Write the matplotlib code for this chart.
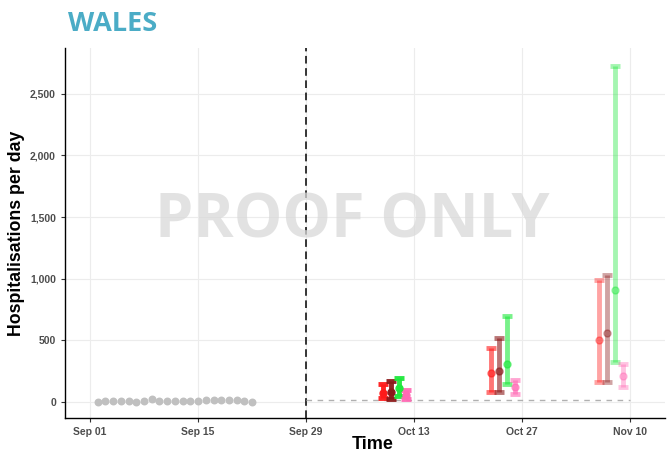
import datetime as dt
import matplotlib
matplotlib.use("Agg")
import matplotlib.pyplot as plt
import matplotlib.dates as mdates

# observed daily hospitalisations (grey points)
obs_start = dt.date(2020, 9, 2)
obs_values = [2, 8, 8, 6, 5, 3, 6, 20, 6, 4, 5, 8, 10, 10, 12, 15, 18, 15, 12, 8, 2]

# projections: 4 scenarios x 3 horizons
proj_dates = [dt.date(2020, 10, 9), dt.date(2020, 10, 23), dt.date(2020, 11, 6)]
scenarios = ["red", "darkred", "green", "pink"]
colors = ["#ff1a1a", "#8b1a1a", "#1ee83c", "#ff69b4"]
alphas = [0.95, 0.6, 0.4]
mid = [[70, 238, 503], [80, 254, 557], [110, 308, 909], [55, 119, 211]]
low = [[32, 84, 165], [22, 84, 165], [49, 146, 322], [22, 65, 119]]
high = [[142, 441, 990], [170, 517, 1031], [195, 698, 2727], [97, 179, 308]]

baseline = 15
forecast_start = dt.date(2020, 9, 29)
baseline_end = dt.date(2020, 11, 10)

tick_dates = [dt.date(2020, 9, 1), dt.date(2020, 9, 15), dt.date(2020, 9, 29),
              dt.date(2020, 10, 13), dt.date(2020, 10, 27), dt.date(2020, 11, 10)]
tick_labels = ["Sep 01", "Sep 15", "Sep 29", "Oct 13", "Oct 27", "Nov 10"]
ytick_vals = [0, 500, 1000, 1500, 2000, 2500]
ytick_labels = ["0", "500", "1,000", "1,500", "2,000", "2,500"]

plt.rcParams['font.family'] = ['Liberation Sans', 'DejaVu Sans']

fig = plt.figure(figsize=(6.72, 4.53), dpi=100)
ax = fig.add_axes([0.0967, 0.0773, 0.893, 0.817])

ax.grid(True, color="#ececec", linewidth=0.8)
ax.set_axisbelow(True)

obs_dates = [obs_start + dt.timedelta(days=i) for i in range(len(obs_values))]
ax.scatter(obs_dates, obs_values, s=22, color="#c0c0c0", zorder=3)

ax.axvline(forecast_start, color="black", linestyle=(0, (5, 3)), linewidth=1.1)
ax.plot([forecast_start, baseline_end], [baseline, baseline], color="#b0b0b0",
        linestyle=(0, (4, 4)), linewidth=1)

for s, col in enumerate(colors):
    for h, d in enumerate(proj_dates):
        x = d + dt.timedelta(days=s * 1.03)
        ax.errorbar([x], [mid[s][h]],
                    yerr=[[mid[s][h] - low[s][h]], [high[s][h] - mid[s][h]]],
                    fmt="o", color=col, alpha=alphas[h], markersize=5,
                    elinewidth=3.5, capsize=3.8, capthick=3.5, zorder=4)

x0 = dt.date(2020, 9, 1)
ax.set_xlim(mdates.date2num(x0) - 3.24, mdates.date2num(x0) + 74.5)
ax.set_ylim(-130, 2873)
ax.set_xticks(tick_dates)
ax.set_xticklabels(tick_labels)
ax.set_yticks(ytick_vals)
ax.set_yticklabels(ytick_labels)
ax.tick_params(labelsize=7.5, labelcolor="#4d4d4d", length=3, color="#333333")
for lbl in ax.get_xticklabels() + ax.get_yticklabels():
    lbl.set_fontweight("bold")

for side in ["top", "right"]:
    ax.spines[side].set_visible(False)
ax.spines["left"].set_linewidth(1)
ax.spines["bottom"].set_linewidth(1)

ax.set_xlabel("Time", fontsize=13, fontweight="bold")
ax.xaxis.set_label_coords(0.512, -0.05)
ax.set_ylabel("Hospitalisations per day", fontsize=12.8, fontweight="bold", labelpad=4)

fig.text(0.101, 0.948, "WALES", fontsize=19.5, fontweight="bold", color="#4bacc6",
         family=["Open Sans", "DejaVu Sans"], va="center", ha="left")
fig.text(0.524, 0.51, "PROOF ONLY", fontsize=44, fontweight="bold", color="#d9d9d9",
         alpha=0.75, family=["Open Sans", "DejaVu Sans"], ha="center", va="center", zorder=10)

fig.savefig("out.png", dpi=100)
